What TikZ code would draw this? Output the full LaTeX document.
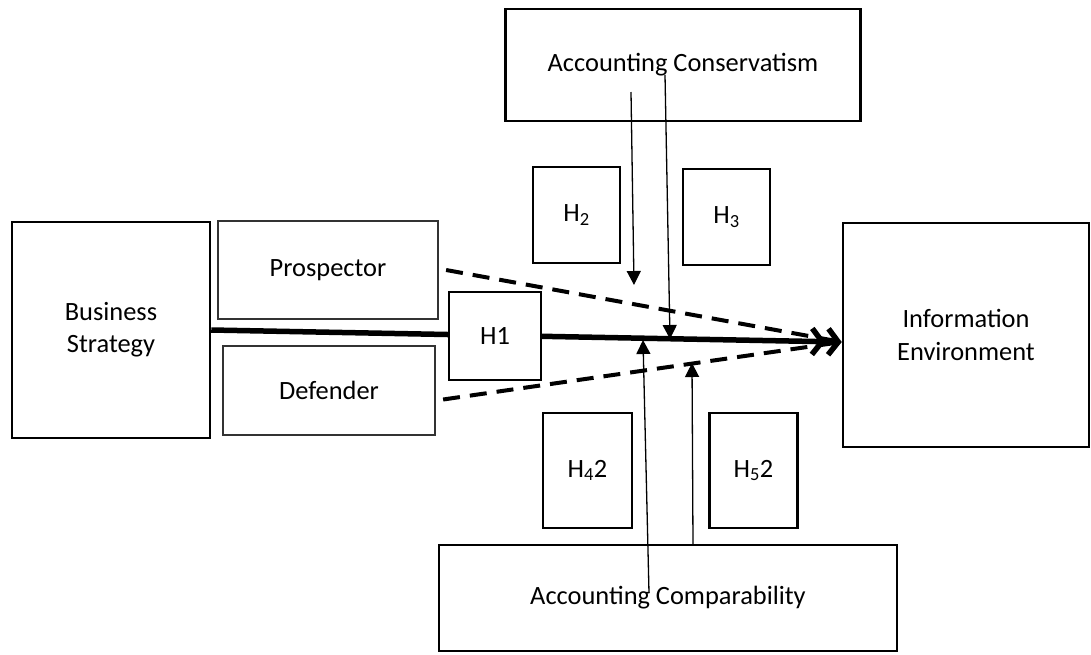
\documentclass[tikz,border=0pt]{standalone}
\usepackage{fontspec}
\setmainfont{Carlito}
\usepackage{tikz}
\usetikzlibrary{arrows.meta}
\usetikzlibrary{positioning}
\tikzset{blk/.style = {draw, line width=2.5pt, fill=white, align=center, inner sep=0, font=\fontsize{26.4}{32.2}\selectfont}}
\tikzset{subblk/.style = {blk, draw=black!80, line width=2.2pt}}
\tikzset{dashline/.style = {line width=4pt, dash pattern=on 17pt off 10pt}}
\tikzset{thinarr/.style = {line width=1.3pt, -{Triangle[length=14pt,width=14pt]}}}
\tikzset{mainarr/.style = {line width=5.5pt, -{Straight Barb[length=10pt,width=26pt]Straight Barb[length=10pt,width=26pt]}}}

\begin{document}
\begin{tikzpicture}[x=1pt, y=-1pt]
        \useasboundingbox (0,0) rectangle (1091,654);
        \node[blk, minimum width=198, minimum height=216] (bs) at (111,330) {Business\\Strategy};
        \node[subblk, minimum width=220, minimum height=98] (pros) at (328,270) {Prospector};
        \node[subblk, minimum width=212, minimum height=89] (def) at (329,390.5) {Defender};
        \node[blk, minimum width=246, minimum height=224] (ie) at (966,335) {Information\\Environment};
        \node[blk, minimum width=355, minimum height=112] (cons) at (683,65) {Accounting Conservatism};
        \node[blk, minimum width=458, minimum height=106] (comp) at (668,598) {Accounting Comparability};
        \node[blk, minimum width=87, minimum height=96] (h2) at (576.5,215) {H\textsubscript{2}};
        \node[blk, minimum width=87, minimum height=96] (h3) at (726.5,217) {H\textsubscript{3}};
        \node[blk, minimum width=89, minimum height=115] (h4) at (587.5,470.5) {H\textsubscript{4}2};
        \node[blk, minimum width=88, minimum height=115] (h5) at (753.5,470.5) {H\textsubscript{5}2};
        \coordinate (tip) at ([yshift=-7pt]ie.west);
        \draw [mainarr] (bs.east) -- (tip);
        \draw [dashline] ([xshift=7pt]pros.east) -- (tip);
        \draw [dashline] ([xshift=7pt,yshift=-9pt]def.east) -- (tip);
        \node[blk, minimum width=92, minimum height=88] (h1) at (495,336) {H1};
        % moderating paths
        \coordinate (consA) at (631,92);
        \coordinate (consB) at (665,75);
        \coordinate (compA) at (649,593);
        \coordinate (compB) at (693,545);
        \coordinate (endA) at (634,285);
        \coordinate (endB) at (670,339);
        \coordinate (endC) at (643,340);
        \coordinate (endD) at (692,363);
        \draw [thinarr] (consA) -- (endA);
        \draw [thinarr] (consB) -- (endB);
        \draw [thinarr] (compA) -- (endC);
        \draw [thinarr] (compB) -- (endD);
    \end{tikzpicture}
\end{document}
